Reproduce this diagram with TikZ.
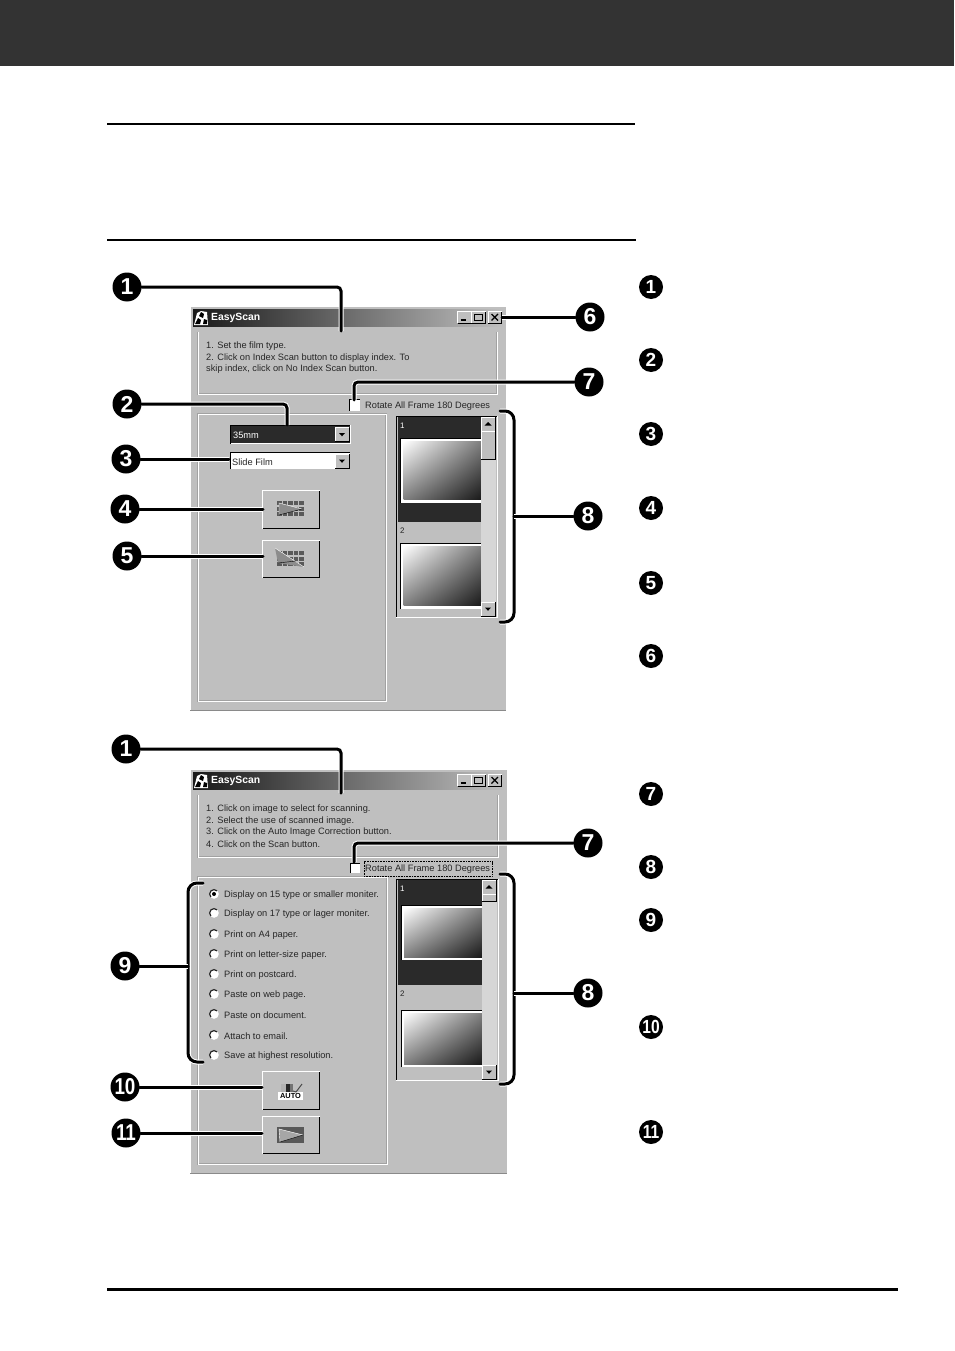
\documentclass[tikz,border=0pt]{standalone}
\usepackage{fontspec}
\usepackage{graphicx}
\setmainfont{Liberation Sans}
\usetikzlibrary{positioning,shadings}
\pgfdeclarelayer{win}
\pgfdeclarelayer{bg}
\pgfsetlayers{win,bg,main}
\definecolor{uigray}{HTML}{BFBFBF}
\definecolor{uidark}{HTML}{2A2A2A}
\definecolor{uiedge}{HTML}{8A8A8A}
\definecolor{uietch}{HTML}{A2A2A2}
\definecolor{uitrack}{HTML}{D6D6D6}
\tikzset{
  numa/.style={circle, fill=black, text=white, inner sep=0pt, minimum size=29pt, font=\fontsize{23}{23}\selectfont\bfseries},
  numb/.style={circle, fill=black, text=white, inner sep=0pt, minimum size=24pt, font=\fontsize{19}{19}\selectfont\bfseries},
  leader/.style={line width=3pt, rounded corners=4pt, line cap=round, preaction={draw, white, line width=5pt}},
  uitext/.style={anchor=west, inner sep=0pt, yshift=-.8pt, text=black!85, font=\fontsize{9.25}{10}\selectfont},
  uititle/.style={uitext, text=white, font=\fontsize{10.4}{11}\selectfont\bfseries},
  etch/.style={draw=white, line width=1pt, preaction={draw=uietch, line width=1.8pt}},
}
% raised button, x0 y0 x1 y1
\newcommand{\uibtn}[4]{
  \fill[uigray] (#1,#2) rectangle (#3,#4);
  \draw[white, line width=1pt] (#1,#4) -- (#1,#2) -- (#3,#2);
  \draw[black, line width=1pt] (#1,#4) -- (#3,#4) -- (#3,#2);
}
% thumbnail of the index list
\newcommand{\uithumb}[4]{
  \fill[white] (#1,#2) rectangle (#3,#4);
  \draw[black, line width=1pt] (#1,#4) -- (#1,#2) -- (#3,#2);
  \shade[upper left=white, upper right=gray, lower left=gray, lower right=black!90] (#1+3,#2+3) rectangle (#3,#4-3);
}
% film grid of the scan buttons
\newcommand{\uigrid}[2]{
  \foreach \gx in {0,5.5,11,16.5,22} \foreach \gy in {0,5.5,11}
    \fill[black!65] (#1+\gx,#2+\gy) rectangle +(4.6,4.4);
}
\newcommand{\uiarrow}[2]{
  \fill[black] (#1-3,#2-1.5) -- (#1+3,#2-1.5) -- (#1,#2+1.8) -- cycle;
}
\newcommand{\uiscroll}[4]{
  \fill[uitrack] (#1,#2) rectangle (#1+15,#3);
  \uibtn{#1}{#2}{#1+14}{#2+14}
  \fill[black] (#1+3.5,#2+8.5) -- (#1+10.5,#2+8.5) -- (#1+7,#2+5) -- cycle;
  \uibtn{#1}{#2+14.5}{#1+14}{#4}
  \uibtn{#1}{#3-14}{#1+14}{#3}
  \uiarrow{#1+7}{#3-7}
}
% frame shared by the two windows
\newcommand{\uiframe}[2]{
  \fill[uigray] (190,306) rectangle (#1,#2);
  \draw[white, line width=1pt] (190,#2) -- (190,306) -- (#1,306) -- (#1,#2);
  \draw[uiedge, line width=1pt] (190,#2) -- (#1,#2);
  \shade[left color=black!90, right color=uigray] (193,309.5) rectangle (#1-3,326.5);
  \uibtn{457.5}{311.5}{471}{323}
  \uibtn{471.5}{311.5}{485.5}{323}
  \uibtn{488}{311.5}{501.5}{323}
  \draw[black, line width=1.4pt] (460.5,320) -- (466,320);
  \draw[black, line width=1pt] (474.5,314.5) rectangle (482.5,320.5);
  \draw[black, line width=1.2pt] (491.5,314) -- (498,320.5) (498,314) -- (491.5,320.5);
  \fill[white] (194,325) -- (197,313) -- (201,311) -- (207,312) -- (208,325) -- cycle;
  \fill[black] (195,324) -- (198,318) -- (201,320) -- (200,324) -- cycle;
  \fill[black] (199,316) -- (201,312) -- (204,314) -- (203,318) -- cycle;
  \fill[black] (203,324) -- (204,319) -- (207,320) -- (207,324) -- cycle;
}
\begin{document}
\begin{tikzpicture}[x=1pt, y=-1pt]
        \useasboundingbox (0,0) rectangle (954,1351);
        % page furniture
        \begin{pgfonlayer}{win}
                \fill[white] (0,0) rectangle (954,1351);
                \fill[black!80] (0,0) rectangle (954,66);
                \draw[line width=2pt] (107,124) -- (635,124);
                \draw[line width=2pt] (107,240) -- (636,240);
                \draw[line width=3pt] (107,1289) -- (898,1289);

                % upper window
                \uiframe{506}{710.5}
                \draw[etch] (198,332) -- (198,394) -- (497,394) -- (497,332);
                \draw[etch] (198,414) rectangle (386,701);
                \fill[white] (349.5,399.5) rectangle (360,410.5);
                \draw[black, line width=1pt] (349.5,410.5) -- (349.5,399.5) -- (360,399.5);
                % film size and film type
                \fill[uidark] (231,426) rectangle (350,443);
                \draw[white, line width=1pt] (230.5,443.5) -- (350,443.5) -- (350,425);
                \draw[black, line width=1pt] (230.5,443.5) -- (230.5,425) -- (350,425);
                \uibtn{335}{427.5}{349}{441.5}
                \uiarrow{342}{434.5}
                \fill[white] (231,453) rectangle (350,469);
                \draw[black, line width=1pt] (230.5,469) -- (230.5,452.5) -- (350,452.5);
                \uibtn{335}{454}{349}{468}
                \uiarrow{342}{461}
                % scan buttons
                \uibtn{262.5}{490.5}{319.5}{528.5}
                \uigrid{277}{501}
                \fill[black!45] (279,503) -- (302,509) -- (279,515) -- cycle;
                \draw[white] (279,515) -- (279,503) -- (302,509);
                \draw[black] (279,515) -- (302,509);
                \uibtn{262.5}{540.5}{319.5}{577.5}
                \uigrid{277}{551}
                \fill[black!45] (275,548) -- (304,567) -- (278,563) -- cycle;
                \draw[white] (275,548) -- (304,567);
                \draw[black] (278,563) -- (296,561);
                % index list
                \fill[uigray] (396,416) rectangle (497,617);
                \draw[black, line width=1pt] (396,617) -- (396,416) -- (497,416);
                \draw[white, line width=1pt] (396,617) -- (497,617) -- (497,416);
                \fill[uidark] (398,417) rectangle (481,522);
                \uithumb{400.5}{438}{481}{502.5}
                \uithumb{400.5}{543}{481}{608.5}
                \uiscroll{481}{417}{616}{459}

                % lower window
                \begin{scope}[shift={(0,463)}]
                        \uiframe{507}{710.5}
                \end{scope}
                \draw[etch] (198,795) -- (198,857) -- (498,857) -- (498,795);
                \draw[etch] (198,877) rectangle (387,1164);
                \fill[white] (350,863) rectangle (360,873);
                \draw[black, line width=1pt] (350,873) -- (350,863) -- (360,863);
                \draw[black, densely dotted, line width=.6pt] (364,861.5) rectangle (492,876);
                % radio buttons
                \foreach \ry in {894,913,934,954,974,994,1014,1035,1055} {
                        \fill[white] (214,\ry) circle (4.8);
                        \draw[black!85, line width=1.2pt] (210.9,\ry+3.1) arc (135:315:4.4);
                }
                \fill[black] (214,894) circle (2);
                % correction and scan buttons
                \uibtn{262.5}{1071.5}{319.5}{1109.5}
                \fill[white] (278,1085) rectangle (303,1099.5);
                \fill[uigray] (278,1084) rectangle (303,1092);
                \fill[black!30] (281,1084) rectangle (286,1092);
                \fill[black!85] (286,1084) rectangle (290,1092);
                \fill[black!55] (290,1084) rectangle (293,1092);
                \draw[black!70, line width=1pt] (293,1091) -- (296,1092) -- (302,1084);
                \uibtn{262.5}{1116.5}{319.5}{1153.5}
                \fill[black!65] (277,1127) rectangle (304,1143);
                \fill[black!35] (279,1129) -- (303,1135) -- (280,1142) -- cycle;
                \draw[white] (280,1142) -- (279,1129) -- (303,1135);
                \draw[black] (280,1142) -- (303,1135);
                % index list
                \fill[uigray] (396,879) rectangle (498,1080);
                \draw[black, line width=1pt] (396,1080) -- (396,879) -- (498,879);
                \draw[white, line width=1pt] (396,1080) -- (498,1080) -- (498,879);
                \fill[uidark] (398,880) rectangle (482,985);
                \uithumb{401}{905}{482}{960}
                \uithumb{401}{1010}{482}{1067}
                \uiscroll{482}{880}{1079}{901}
        \end{pgfonlayer}

        % window texts
        \node (ta0) [uititle] at (211,317) {EasyScan};
        \node (ta1) [uitext] at (206,345) {1. Set the film type.};
        \node (ta2) [uitext] at (206,357) {2. Click on Index Scan button to display index. To};
        \node (ta3) [uitext] at (206,368) {skip index, click on No Index Scan button.};
        \node (ta4) [uitext] at (365,405) {Rotate All Frame 180 Degrees};
        \node (ta5) [uitext, text=white] at (233,435) {35mm};
        \node (ta6) [uitext] at (232,461) {Slide Film};
        \node (ta7) [uitext, font=\fontsize{8}{9}\selectfont, text=white] at (400,425) {1};
        \node (ta8) [uitext, font=\fontsize{8}{9}\selectfont] at (400,530) {2};

        \node (tb0) [uititle] at (211,780) {EasyScan};
        \node (tb1) [uitext] at (206,808) {1. Click on image to select for scanning.};
        \node (tb2) [uitext] at (206,820) {2. Select the use of scanned image.};
        \node (tb3) [uitext] at (206,831) {3. Click on the Auto Image Correction button.};
        \node (tb4) [uitext] at (206,843) {4. Click on the Scan button.};
        \node (tb5) [uitext] at (365,868) {Rotate All Frame 180 Degrees};
        \node (tb6) [uitext, font=\fontsize{8}{9}\selectfont, text=white] at (400,888) {1};
        \node (tb7) [uitext, font=\fontsize{8}{9}\selectfont] at (400,993) {2};
        \node (tb8) [inner sep=0pt, font=\fontsize{7.4}{7}\selectfont\bfseries] at (290.5,1095.7) {AUTO};
        \foreach \ry/\rt [count=\ri] in {894/Display on 15 type or smaller moniter., 913/Display on 17 type or lager moniter.,
                934/Print on A4 paper., 954/Print on letter-size paper., 974/Print on postcard., 994/Paste on web page.,
                1014/Paste on document., 1035/Attach to email., 1055/Save at highest resolution.}
                \node (r\ri) [uitext] at (224,\ry) {\rt};

        % numbered callouts
        \node (a1) [numa] at (127,287) {1};
        \node (a2) [numa] at (127,404) {2};
        \node (a3) [numa] at (126,459) {3};
        \node (a4) [numa] at (125,509) {4};
        \node (a5) [numa] at (127,556) {5};
        \node (a6) [numa] at (590,317) {6};
        \node (a7) [numa] at (589,382) {7};
        \node (a8) [numa] at (588,516) {8};
        \node (b1) [numa] at (126,749) {1};
        \node (b7) [numa] at (588,843) {7};
        \node (b8) [numa] at (588,993) {8};
        \node (b9) [numa] at (125,966) {9};
        \node (b10) [numa] at (125,1087) {\scalebox{.82}[1]{10}};
        \node (b11) [numa] at (126,1133) {\scalebox{.82}[1]{11}};

        \foreach \cy/\cn/\ct in {287/c1/1, 360/c2/2, 434/c3/3, 508/c4/4, 583/c5/5, 656/c6/6, 794/c7/7, 867/c8/8, 920/c9/9,
                1027/c10/\scalebox{.82}[1]{10}, 1132/c11/\scalebox{.82}[1]{11}}
                \node (\cn) [numb] at (651,\cy) {\ct};

        % leader ends
        \coordinate (ea1) at (341,331);
        \coordinate (ea2) at (287,425);
        \coordinate (ea3) at (229,459);
        \coordinate (ea4) at (263,509);
        \coordinate (ea5) at (263,556);
        \coordinate (ea6) at (502,317);
        \coordinate (ea7) at (354,400);
        \coordinate (eb1) at (341,793);
        \coordinate (eb7) at (354,862);
        \coordinate (eb10) at (262,1087);
        \coordinate (eb11) at (262,1133);
        \coordinate (sa8) at (500,411);
        \coordinate (ma8) at (514,516);
        \coordinate (fa8) at (500,622);
        \coordinate (sb8) at (500,874);
        \coordinate (mb8) at (514,993);
        \coordinate (fb8) at (500,1084);
        \coordinate (sb9) at (203,883);
        \coordinate (mb9) at (188,966);
        \coordinate (fb9) at (203,1062);

        \begin{pgfonlayer}{bg}
                \draw[leader] (a1) -| (ea1);
                \draw[leader] (a2) -| (ea2);
                \draw[leader] (a3) -- (ea3);
                \draw[leader] (a4) -- (ea4);
                \draw[leader] (a5) -- (ea5);
                \draw[leader] (a6) -- (ea6);
                \draw[leader] (a7) -| (ea7);
                \draw[leader] (b1) -| (eb1);
                \draw[leader] (b7) -| (eb7);
                \draw[leader] (b10) -- (eb10);
                \draw[leader] (b11) -- (eb11);
                \draw[leader, rounded corners=9pt] (sa8) -| (ma8) |- (fa8);
                \draw[leader] (a8) -- (ma8);
                \draw[leader, rounded corners=9pt] (sb8) -| (mb8) |- (fb8);
                \draw[leader] (b8) -- (mb8);
                \draw[leader, rounded corners=9pt] (sb9) -| (mb9) |- (fb9);
                \draw[leader] (b9) -- (mb9);
        \end{pgfonlayer}
\end{tikzpicture}
\end{document}
